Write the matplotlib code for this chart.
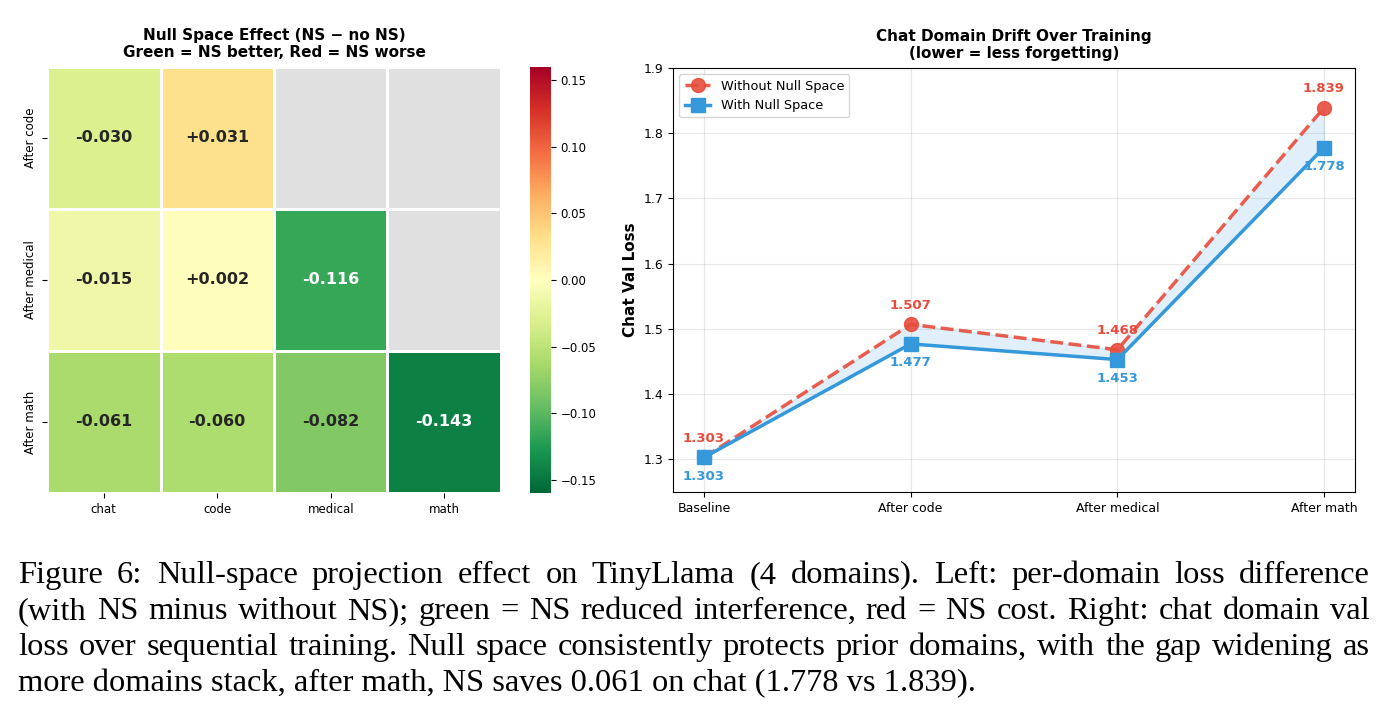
import numpy as np
import matplotlib
matplotlib.use("Agg")
import matplotlib.pyplot as plt
import seaborn as sns

# heatmap data (NS - no NS)
row_labels = ["After code", "After medical", "After math"]
col_labels = ["chat", "code", "medical", "math"]
diff_code = [-0.030, 0.031, np.nan, np.nan]
diff_medical = [-0.015, 0.002, -0.116, np.nan]
diff_math = [-0.061, -0.060, -0.082, -0.143]

# chat drift data
stages = ["Baseline", "After code", "After medical", "After math"]
loss_no_ns = [1.303, 1.507, 1.468, 1.839]
loss_ns = [1.303, 1.477, 1.453, 1.778]

caption_lines = [
    "Figure 6: Null-space projection effect on TinyLlama (4 domains). Left: per-domain loss difference",
    "(with NS minus without NS); green = NS reduced interference, red = NS cost. Right: chat domain val",
    "loss over sequential training. Null space consistently protects prior domains, with the gap widening as",
    "more domains stack, after math, NS saves 0.061 on chat (1.778 vs 1.839).",
]

W, H = 1386, 726
fig = plt.figure(figsize=(W / 100, H / 100), dpi=100)

# ---- left: heatmap
ax_h = fig.add_axes([47 / W, 1 - 493 / H, 454 / W, 426 / H])
ax_c = fig.add_axes([530 / W, 1 - 493 / H, 21 / W, 426 / H])
mat = np.array([diff_code, diff_medical, diff_math])
annot = np.array([["" if np.isnan(v) else f"{v:+.3f}" for v in row] for row in mat])
cmap = plt.get_cmap("RdYlGn_r").copy()
cmap.set_bad("#e0e0e0")
sns.heatmap(np.ma.masked_invalid(mat), ax=ax_h, cbar_ax=ax_c, cmap=cmap, vmin=-0.16, vmax=0.16,
            annot=annot, fmt="", annot_kws={"fontsize": 11.5, "fontweight": "bold"},
            linewidths=2, linecolor="white", xticklabels=col_labels, yticklabels=row_labels)
ax_h.set_title("Null Space Effect (NS \u2212 no NS)\nGreen = NS better, Red = NS worse",
               fontsize=11, fontweight="bold", pad=7)
ax_h.tick_params(axis="both", labelsize=8.5)
ax_h.set_yticklabels(row_labels, rotation=90, va="center")
ax_c.set_yticks([-0.15, -0.10, -0.05, 0.0, 0.05, 0.10, 0.15])
ax_c.tick_params(labelsize=8.5)

# ---- right: line chart
ax = fig.add_axes([673 / W, 1 - 492 / H, 682 / W, 424 / H])
x = np.arange(len(stages))
red, blue = "#e74c3c", "#3498db"
ax.plot(x, loss_no_ns, "o--", color=red, lw=2.5, ms=10, alpha=0.9, label="Without Null Space")
ax.plot(x, loss_ns, "s-", color=blue, lw=2.5, ms=10, label="With Null Space")
ax.fill_between(x, loss_ns, loss_no_ns, color=blue, alpha=0.15)
for xi, a, b in zip(x, loss_no_ns, loss_ns):
    ax.annotate(f"{a:.3f}", (xi, a), xytext=(0, 9), textcoords="offset points",
                ha="center", va="bottom", color=red, fontsize=9.5, fontweight="bold")
    ax.annotate(f"{b:.3f}", (xi, b), xytext=(0, -9), textcoords="offset points",
                ha="center", va="top", color=blue, fontsize=9.5, fontweight="bold")
ax.set_xticks(x)
ax.set_xticklabels(stages, fontsize=9)
ax.set_ylim(1.25, 1.9)
ax.set_yticks([1.3, 1.4, 1.5, 1.6, 1.7, 1.8, 1.9])
ax.tick_params(axis="y", labelsize=9)
ax.set_ylabel("Chat Val Loss", fontsize=11, fontweight="bold")
ax.set_title("Chat Domain Drift Over Training\n(lower = less forgetting)", fontsize=11,
             fontweight="bold", pad=7)
ax.grid(True, alpha=0.3)
ax.legend(loc="upper left", fontsize=9.3)

# ---- caption, justified
cap_font = dict(family="Liberation Serif", fontsize=23.4)
left, right = 18, 1370
renderer = fig.canvas.get_renderer()
for i, line in enumerate(caption_lines):
    y = 1 - (583 + 36 * i) / H
    if i == len(caption_lines) - 1:
        fig.text(left / W, y, line, ha="left", va="baseline", **cap_font)
        continue
    words = line.split(" ")
    texts = [fig.text(0, y, w, ha="left", va="baseline", **cap_font) for w in words]
    widths = [t.get_window_extent(renderer).width for t in texts]
    gap = (right - left - sum(widths)) / (len(words) - 1)
    pos = left
    for t, w in zip(texts, widths):
        t.set_x(pos / W)
        pos += w + gap

fig.savefig("out.png", dpi=100)
